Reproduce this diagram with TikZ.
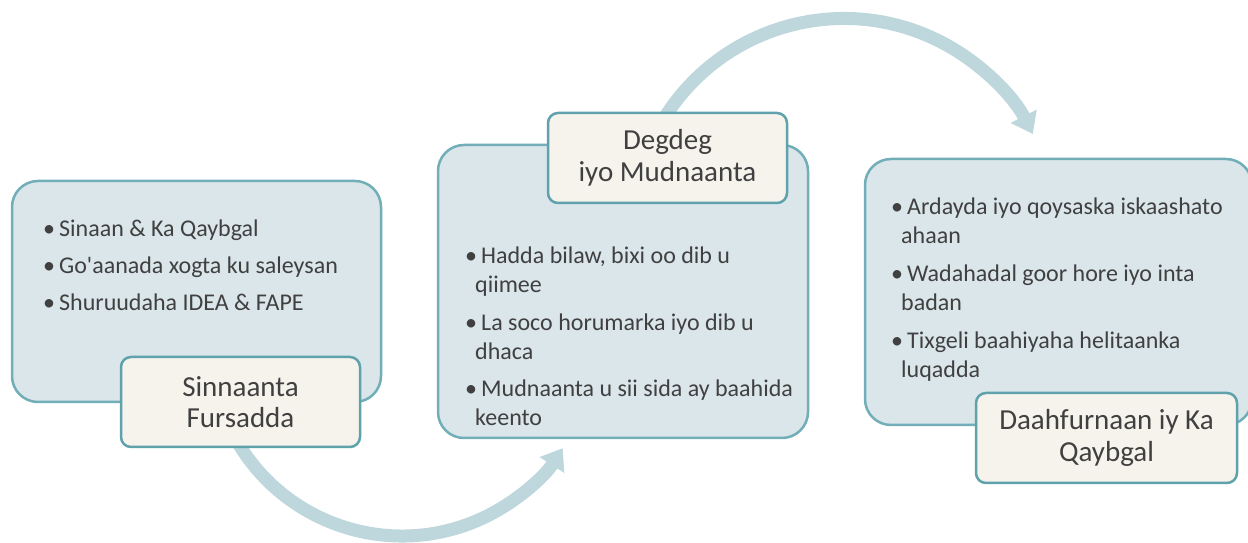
\documentclass[tikz,border=0pt]{standalone}
\usepackage{fontspec}
\setmainfont{Carlito}
\usetikzlibrary{arrows.meta}
\definecolor{boxfill}{HTML}{DAE6EA}
\definecolor{boxline}{HTML}{72AEB8}
\definecolor{labfill}{HTML}{F5F3EC}
\definecolor{labline}{HTML}{5FA2AC}
\definecolor{arrowcol}{HTML}{BDD7DC}
\definecolor{txt}{HTML}{404040}
\tikzset{
 bigbox/.style={draw=boxline, fill=boxfill, line width=2.5pt, rounded corners=26pt, inner sep=0pt},
 labbox/.style={draw=labline, fill=labfill, line width=2.5pt, rounded corners=10pt, inner sep=0pt, align=center, text=txt, font=\fontsize{29}{31.5}\selectfont},
 bullets/.style={inner sep=0pt, anchor=base west, text=txt, font=\fontsize{24}{29}\selectfont},
 flow/.style={draw=arrowcol, line width=13pt, -{Triangle[length=20pt,width=28pt]}},
}
\newcommand{\bul}{\makebox[10pt][l]{•}}
\newcommand{\fl}{\hspace{6pt}}
\newcommand{\wl}{\hspace{10pt}}
\begin{document}
\begin{tikzpicture}[x=1pt,y=1pt]
\useasboundingbox (0,0) rectangle (1248,543);
\clip (0,0) rectangle (1248,543);
% arcs
\coordinate (c1) at (402,198);
\coordinate (c2) at (844,312.5);
\coordinate (s1) at ([shift={(208:191pt)}]c1);
\coordinate (s2) at ([shift={(150:212pt)}]c2);
\draw[flow] (s1) arc[start angle=208, end angle=327.3, radius=191pt];
\draw[flow] (s2) arc[start angle=150, end angle=27.05, radius=212pt];
% big boxes
\node[bigbox, minimum width=369pt, minimum height=221pt] (box1) at (196.5,251.5) {};
\node[bigbox, minimum width=370pt, minimum height=293pt] (box2) at (623,251.5) {};
\node[bigbox, minimum width=387pt, minimum height=266pt] (box3) at (1058.5,251) {};
% bullets
\node[bullets] (t1) at (43,306.3) {\begin{tabular}[t]{@{}l@{}}
\bul\fl Sinaan \& Ka Qaybgal\\[8pt]
\bul\fl Go\textquotesingle aanada xogta ku saleysan\\[8pt]
\bul\fl Shuruudaha IDEA \& FAPE
\end{tabular}};
\node[bullets] (t2) at (465,279) {\begin{tabular}[t]{@{}l@{}}
\bul\fl Hadda bilaw, bixi oo dib u\\
\wl qiimee\\[8.5pt]
\bul\fl La soco horumarka iyo dib u\\
\wl dhaca\\[8.5pt]
\bul\fl Mudnaanta u sii sida ay baahida\\
\wl keento
\end{tabular}};
\node[bullets] (t3) at (891,328) {\begin{tabular}[t]{@{}l@{}}
\bul\fl Ardayda iyo qoysaska iskaashato\\
\wl ahaan\\[9pt]
\bul\fl Wadahadal goor hore iyo inta\\
\wl badan\\[9pt]
\bul\fl Tixgeli baahiyaha helitaanka\\
\wl luqadda
\end{tabular}};
% labels
\node[labbox, minimum width=239pt, minimum height=90pt] (lab1) at (240.5,141) {Sinnaanta\\Fursadda};
\node[labbox, minimum width=239pt, minimum height=90pt] (lab2) at (667.5,385) {Degdeg\\iyo Mudnaanta};
\node[labbox, minimum width=261pt, minimum height=90pt] (lab3) at (1106.5,105) {Daahfurnaan iy Ka\\Qaybgal};
\end{tikzpicture}
\end{document}
